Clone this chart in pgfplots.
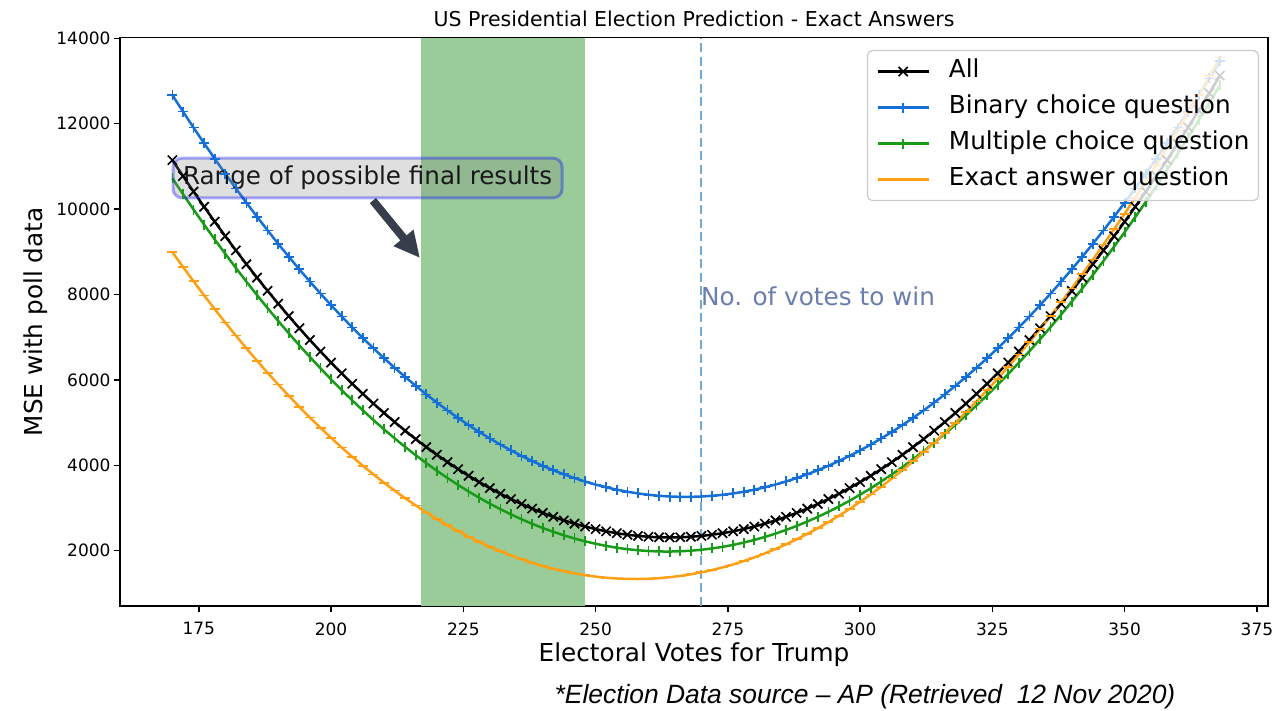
\documentclass[border=0pt]{standalone}
\usepackage{fontspec}
\setmainfont{DejaVu Sans}
\newfontfamily\footfont{Liberation Sans}
\usepackage{pgfplots}
\usepackage{pgfplotstable}
\pgfplotsset{compat=1.18}
\usetikzlibrary{arrows.meta}
\definecolor{cblue}{RGB}{20,112,215}
\definecolor{cgreen}{RGB}{25,155,25}
\definecolor{corange}{RGB}{255,160,20}
\definecolor{bandgreen}{RGB}{153,204,153}
\definecolor{dashblue}{RGB}{115,170,215}
\definecolor{votetext}{RGB}{105,125,175}
\definecolor{arrowgray}{RGB}{55,62,75}
\definecolor{legedge}{RGB}{204,204,204}

\pgfplotstableread{
x all bin mult exact
170 11146 12669 10722 8993
172 10774 12285 10352 8647
174 10410 11909 9990 8309
176 10054 11541 9636 7979
178 9706 11181 9290 7657
180 9366 10829 8952 7343
182 9034 10485 8622 7037
184 8710 10149 8300 6739
186 8394 9821 7986 6449
188 8086 9501 7680 6167
190 7786 9189 7382 5893
192 7494 8885 7092 5627
194 7210 8589 6810 5369
196 6934 8301 6536 5119
198 6666 8021 6270 4877
200 6406 7749 6012 4643
202 6154 7485 5762 4417
204 5910 7229 5520 4199
206 5674 6981 5286 3989
208 5446 6741 5060 3787
210 5226 6509 4842 3593
212 5014 6285 4632 3407
214 4810 6069 4430 3229
216 4614 5861 4236 3059
218 4426 5661 4050 2897
220 4246 5469 3872 2743
222 4074 5285 3702 2597
224 3910 5109 3540 2459
226 3754 4941 3386 2329
228 3606 4781 3240 2207
230 3466 4629 3102 2093
232 3334 4485 2972 1987
234 3210 4349 2850 1889
236 3094 4221 2736 1799
238 2986 4101 2630 1717
240 2886 3989 2532 1643
242 2794 3885 2442 1577
244 2710 3789 2360 1519
246 2634 3701 2286 1469
248 2566 3621 2220 1427
250 2506 3549 2162 1393
252 2454 3485 2112 1367
254 2410 3429 2070 1349
256 2374 3381 2036 1339
258 2346 3341 2010 1337
260 2326 3309 1992 1343
262 2314 3285 1982 1357
264 2310 3269 1980 1379
266 2314 3261 1986 1409
268 2326 3261 2000 1447
270 2346 3269 2022 1493
272 2374 3285 2052 1547
274 2410 3309 2090 1609
276 2454 3341 2136 1679
278 2506 3381 2190 1757
280 2566 3429 2252 1843
282 2634 3485 2322 1937
284 2710 3549 2400 2039
286 2794 3621 2486 2149
288 2886 3701 2580 2267
290 2986 3789 2682 2393
292 3094 3885 2792 2527
294 3210 3989 2910 2669
296 3334 4101 3036 2819
298 3466 4221 3170 2977
300 3606 4349 3312 3143
302 3754 4485 3462 3317
304 3910 4629 3620 3499
306 4074 4781 3786 3689
308 4246 4941 3960 3887
310 4426 5109 4142 4093
312 4614 5285 4332 4307
314 4810 5469 4530 4529
316 5014 5661 4736 4759
318 5226 5861 4950 4997
320 5446 6069 5172 5243
322 5674 6285 5402 5497
324 5910 6509 5640 5759
326 6154 6741 5886 6029
328 6406 6981 6140 6307
330 6666 7229 6402 6593
332 6934 7485 6672 6887
334 7210 7749 6950 7189
336 7494 8021 7236 7499
338 7786 8301 7530 7817
340 8086 8589 7832 8143
342 8394 8885 8142 8477
344 8710 9189 8460 8819
346 9034 9501 8786 9169
348 9366 9821 9120 9527
350 9706 10149 9462 9893
352 10054 10485 9812 10267
354 10410 10829 10170 10649
356 10774 11181 10536 11039
358 11146 11541 10910 11437
360 11526 11909 11292 11843
362 11914 12285 11682 12257
364 12310 12669 12080 12679
366 12714 13061 12486 13109
368 13126 13461 12900 13547
}\mse

\begin{document}
\begin{tikzpicture}
\useasboundingbox (0pt,0pt) rectangle (1281pt,711pt);
\begin{axis}[
  at={(120pt,105pt)}, anchor=south west,
  scale only axis, width=1148pt, height=568.3pt,
  xmin=160.1, xmax=377.1, ymin=705, ymax=14014,
  xtick={175,200,...,375}, ytick={2000,4000,...,14000},
  tick pos=left,
  scaled y ticks=false, scaled x ticks=false,
  /pgf/number format/assume math mode=true,
  yticklabel style={/pgf/number format/1000 sep={}},
  xticklabel style={yshift=-7pt},
  tick label style={font=\fontsize{17}{20}\selectfont, text=black},
  tick align=outside, major tick length=6pt,
  tick style={black, line width=1.4pt},
  axis line style={black, line width=1.4pt},
  minor tick num=0,
  xlabel={Electoral Votes for Trump},
  ylabel={MSE with poll data},
  xlabel style={at={(axis description cs:0.5,-0.0968)}, anchor=base, font=\fontsize{24.7}{29}\selectfont},
  every axis y label/.style={at={(axis description cs:-0.0671,0.5)}, rotate=90, anchor=base, font=\fontsize{24.7}{29}\selectfont},
  title={US Presidential Election Prediction - Exact Answers},
  title style={at={(axis description cs:0.5,1.0100)}, anchor=base, font=\fontsize{20.5}{24}\selectfont},
  legend style={at={(0.9922,0.9784)}, anchor=north east, draw=legedge, line width=1.2pt, rounded corners=5pt, fill=white, fill opacity=0.8, draw opacity=1, text opacity=1, font=\fontsize{24.7}{29}\selectfont, inner xsep=9pt, inner ysep=9pt, row sep=12pt, nodes={inner xsep=0pt, inner ysep=0pt, text height=18pt, text depth=6pt}, /tikz/every odd column/.append style={column sep=19pt}},
  legend cell align=left,
  legend image code/.code={\draw[mark repeat=2,mark phase=2] plot coordinates {(0pt,0pt) (25.5pt,0pt) (51pt,0pt)};},
]
\addplot[fill=bandgreen, draw=none, forget plot] coordinates {(217,705) (248,705) (248,14014) (217,14014)} --cycle;
\addplot[dashblue, line width=2pt, dash pattern=on 9.4pt off 4.1pt, forget plot] coordinates {(270,705) (270,14014)};
\addplot[black, line width=2.5pt, mark=x, mark size=6.5pt, mark options={line width=1.7pt, solid}] table[x=x,y=all] {\mse};
\addlegendentry{All}
\addplot[cblue, line width=2.5pt, mark=+, mark size=5pt, mark options={line width=1.7pt, solid}] table[x=x,y=bin] {\mse};
\addlegendentry{Binary choice question}
\addplot[cgreen, line width=2.5pt, mark=|, mark size=5pt, mark options={line width=1.7pt, solid}] table[x=x,y=mult] {\mse};
\addlegendentry{Multiple choice question}
\addplot[corange, line width=2.5pt, mark=-, mark size=5pt, mark options={line width=1.7pt, solid}] table[x=x,y=exact] {\mse};
\addlegendentry{Exact answer question}
\node[fill=gray, fill opacity=0.25, draw=blue, draw opacity=0.33, text opacity=1, line width=3pt, rounded corners=9pt, inner xsep=10pt, inner ysep=7.5pt, text height=18.8pt, text depth=5.9pt, font=\fontsize{24.6}{29}\selectfont, text=black!90] at (axis cs:206.9,10728) {Range of possible final results};
\draw[arrowgray, line width=8pt, -{Triangle[length=26pt, width=24pt]}] (axis cs:207.9,10200) -- (axis cs:216.8,8855);
\node[anchor=west, inner sep=0pt, text=votetext, font=\fontsize{24.7}{29}\selectfont] at (axis cs:269.9,7950) {No. of votes to win};
\end{axis}
\node[anchor=base, font=\footfont\itshape\fontsize{26.4}{31}\selectfont] at (865pt,7pt) {*Election Data source – AP (Retrieved\ \ 12 Nov 2020)};
\end{tikzpicture}
\end{document}
